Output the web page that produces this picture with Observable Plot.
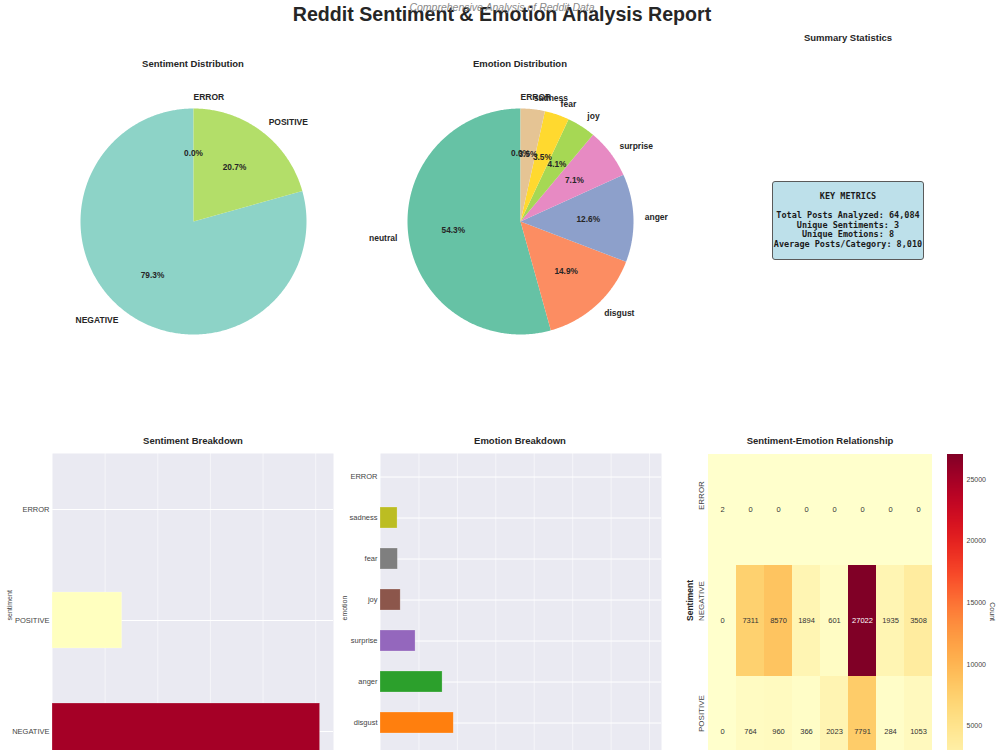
<!DOCTYPE html>
<html><head><meta charset="utf-8">
<script src="https://cdn.jsdelivr.net/npm/d3@7"></script>
<script src="https://cdn.jsdelivr.net/npm/@observablehq/plot@0.6"></script>
<style>
html,body{margin:0;padding:0;background:#fff;overflow:hidden;}
body{width:1000px;height:750px;position:relative;font-family:"Liberation Sans",Arial,sans-serif;color:#262626;}
.t{position:absolute;transform:translate(-50%,-50%);white-space:nowrap;font-weight:bold;font-size:9.5px;color:#262626;}
svg{overflow:visible;}
</style></head><body>
<script>
// ---------- data ----------
const sentiments = ["NEGATIVE", "POSITIVE", "ERROR"];
const sentimentCounts = [50841, 13241, 2];
const sentimentPieColors = ["#8dd3c7", "#b3de69", "#ffed6f"];
const sentimentBarColors = ["#a50026", "#ffffbf", "#006837"];

const emotions = ["neutral", "disgust", "anger", "surprise", "joy", "fear", "sadness", "ERROR"];
const emotionCounts = [34813, 9530, 8075, 4561, 2624, 2260, 2219, 2];
const emotionPieColors = ["#66c2a5", "#fc8d62", "#8da0cb", "#e78ac3", "#a6d854", "#ffd92f", "#e5c494", "#b3b3b3"];
const emotionBarColors = ["#1f77b4", "#ff7f0e", "#2ca02c", "#9467bd", "#8c564b", "#7f7f7f", "#bcbd22", "#17becf"];

const heatRows = ["ERROR", "NEGATIVE", "POSITIVE"];
const heatCols = ["ERROR", "anger", "disgust", "fear", "joy", "neutral", "sadness", "surprise"];
const heatValues = [
  [2, 0, 0, 0, 0, 0, 0, 0],
  [0, 7311, 8570, 1894, 601, 27022, 1935, 3508],
  [0, 764, 960, 366, 2023, 7791, 284, 1053]
];
const colorbarTicks = [5000, 10000, 15000, 20000, 25000];
const sentimentGridTicks = [10000, 20000, 30000, 40000, 50000];
const emotionGridTicks = [5000, 10000, 15000, 20000, 25000, 30000, 35000];

const FONT = "Liberation Sans, Arial, sans-serif";

function place(node, left, top) {
  node.style.position = "absolute";
  node.style.left = left + "px";
  node.style.top = top + "px";
  document.body.appendChild(node);
}
function label(text, x, y, css) {
  const d = document.createElement("div");
  d.className = "t";
  d.textContent = text;
  d.style.left = x + "px";
  d.style.top = y + "px";
  if (css) Object.assign(d.style, css);
  document.body.appendChild(d);
  return d;
}

// ---------- titles ----------
label("Reddit Sentiment & Emotion Analysis Report", 502, 14, {fontSize: "19.6px"});
label("Comprehensive Analysis of Reddit Data", 502, 7, {fontSize: "10.5px", fontWeight: "normal", fontStyle: "italic", color: "#8a8a8a"});
label("Sentiment Distribution", 193, 63);
label("Emotion Distribution", 520, 63);
label("Summary Statistics", 848, 37);
label("Sentiment Breakdown", 193, 440);
label("Emotion Breakdown", 520, 440);
label("Sentiment-Emotion Relationship", 820, 440);

// ---------- pies ----------
function pieChart(labels, values, colors) {
  const size = 300, R = 113;
  const s = (size / 2) / R;
  const total = d3.sum(values);
  const arcs = d3.pie().sort(null)(values);
  const marks = [];
  const outs = [];
  arcs.forEach((a, i) => {
    const a0 = Math.PI / 2 + a.startAngle, a1 = Math.PI / 2 + a.endAngle;
    const n = Math.max(2, Math.ceil((a1 - a0) / 0.01));
    const pts = [{x: 0, y: 0}];
    for (let j = 0; j <= n; j++) {
      const t = a0 + (a1 - a0) * j / n;
      pts.push({x: Math.cos(t), y: Math.sin(t)});
    }
    pts.push({x: 0, y: 0});
    marks.push(Plot.line(pts, {x: "x", y: "y", fill: colors[i], stroke: "none", curve: "linear"}));
    const mid = (a0 + a1) / 2;
    outs.push({
      name: labels[i],
      pct: (values[i] / total * 100).toFixed(1) + "%",
      lx: 1.1 * Math.cos(mid), ly: 1.1 * Math.sin(mid),
      px: 0.6 * Math.cos(mid), py: 0.6 * Math.sin(mid)
    });
  });
  const common = {fontSize: 8.5, fontWeight: "bold", fill: "#262626", lineAnchor: "middle"};
  marks.push(Plot.text(outs.filter(d => d.lx > 0), {x: "lx", y: "ly", text: "name", textAnchor: "start", ...common}));
  marks.push(Plot.text(outs.filter(d => d.lx <= 0), {x: "lx", y: "ly", text: "name", textAnchor: "end", ...common}));
  marks.push(Plot.text(outs, {x: "px", y: "py", text: "pct", textAnchor: "middle", ...common, fontSize: 8.3}));
  return Plot.plot({
    width: size, height: size, margin: 0,
    x: {domain: [-s, s], axis: null},
    y: {domain: [-s, s], axis: null},
    style: {fontFamily: FONT, background: "transparent", overflow: "visible"},
    marks
  });
}
place(pieChart(sentiments, sentimentCounts, sentimentPieColors), 43, 71);
place(pieChart(emotions, emotionCounts, emotionPieColors), 370, 71);

// ---------- key metrics box ----------
{
  const total = d3.sum(sentimentCounts);
  const box = document.createElement("div");
  Object.assign(box.style, {
    position: "absolute", left: "772px", top: "181px", width: "152px", height: "79px",
    boxSizing: "border-box", background: "#bde0ea", border: "1px solid #5a5a5a", borderRadius: "3px",
    fontFamily: "DejaVu Sans Mono, monospace", fontWeight: "bold", fontSize: "8.5px", lineHeight: "9.6px",
    textAlign: "center", whiteSpace: "pre", paddingTop: "10px", color: "#1a1a1a"
  });
  box.textContent = [
    "KEY METRICS", "",
    "Total Posts Analyzed: " + d3.format(",")(total),
    "Unique Sentiments: " + sentiments.length,
    "Unique Emotions: " + emotions.length,
    "Average Posts/Category: " + d3.format(",")(Math.floor(total / emotions.length))
  ].join("\n");
  document.body.appendChild(box);
}

// ---------- bar charts ----------
function barChart(names, values, colors, order, maxX, gridTicks, ylabel, opts) {
  const data = names.map((n, i) => ({name: n, value: values[i]}));
  return Plot.plot({
    width: opts.width, height: 340,
    marginLeft: opts.marginLeft, marginRight: opts.marginRight, marginTop: 0, marginBottom: 6,
    x: {domain: [0, maxX], axis: null},
    y: {domain: order, paddingInner: 0.5, paddingOuter: 0.25, label: null},
    color: {domain: names, range: colors},
    style: {fontFamily: FONT, fontSize: "7.5px", color: "#444", background: "transparent"},
    marks: [
      Plot.frame({fill: "#eaeaf2", stroke: null}),
      Plot.ruleX(gridTicks, {x: d => d, stroke: "white", strokeOpacity: 0.55, strokeWidth: 1}),
      Plot.gridY({stroke: "white", strokeOpacity: 1, strokeWidth: 1}),
      Plot.barX(data, {x: "value", y: "name", fill: "name", stroke: "white", strokeOpacity: 0.4, strokeWidth: 0.6}),
      Plot.axisY({tickSize: 0, tickPadding: 3, label: null, fill: "#444", fontSize: 7.5}),
      Plot.text([ylabel], {frameAnchor: "left", dx: opts.ylabelDx, rotate: -90, fontSize: 7, fill: "#444", text: d => d})
    ]
  });
}
place(barChart(sentiments, sentimentCounts, sentimentBarColors, ["ERROR", "POSITIVE", "NEGATIVE"],
  53383, sentimentGridTicks, "sentiment", {width: 340, marginLeft: 52, marginRight: 7, ylabelDx: -43}), 0, 453);
place(barChart(emotions, emotionCounts, emotionBarColors,
  ["ERROR", "sadness", "fear", "joy", "surprise", "anger", "disgust", "neutral"],
  36554, emotionGridTicks, "emotion", {width: 330, marginLeft: 40, marginRight: 9, ylabelDx: -36}), 340, 453);

// ---------- heatmap ----------
{
  const cells = [];
  heatRows.forEach((r, i) => heatCols.forEach((c, j) => cells.push({row: r, col: c, v: heatValues[i][j]})));
  const vmax = d3.max(cells, d => d.v);
  const heat = Plot.plot({
    width: 253, height: 333, marginLeft: 27, marginRight: 0, marginTop: 0, marginBottom: 0,
    x: {domain: heatCols, padding: 0, axis: null},
    y: {domain: heatRows, padding: 0, axis: null},
    color: {type: "linear", scheme: "ylorrd", domain: [0, vmax]},
    style: {fontFamily: FONT, background: "transparent"},
    marks: [
      Plot.cell(cells, {x: "col", y: "row", fill: "v", shapeRendering: "crispEdges"}),
      Plot.text(cells.filter(d => d.v <= vmax * 0.6), {x: "col", y: "row", text: d => String(d.v), fill: "#333", fontSize: 7.5}),
      Plot.text(cells.filter(d => d.v > vmax * 0.6), {x: "col", y: "row", text: d => String(d.v), fill: "#fff", fontSize: 7.5}),
      Plot.text(heatRows, {y: d => d, text: d => d, frameAnchor: "left", dx: -6, rotate: -90, fontSize: 8, fill: "#444"}),
      Plot.text(["Sentiment"], {frameAnchor: "left", dx: -17, rotate: -90, fontSize: 8.5, fontWeight: "bold", fill: "#262626", text: d => d})
    ]
  });
  place(heat, 680, 454);

  const steps = d3.range(0, vmax, 60);
  const cbar = Plot.plot({
    width: 53, height: 333, marginLeft: 0, marginRight: 37, marginTop: 0, marginBottom: 0,
    x: {domain: [0, 1], axis: null},
    y: {domain: [0, vmax], axis: null},
    color: {type: "linear", scheme: "ylorrd", domain: [0, vmax]},
    style: {fontFamily: FONT, background: "transparent"},
    marks: [
      Plot.rect(steps, {x1: 0, x2: 1, y1: d => d, y2: d => Math.min(d + 90, vmax), fill: d => d, shapeRendering: "crispEdges"}),
      Plot.axisY(colorbarTicks, {anchor: "right", tickSize: 0, tickPadding: 3, fontSize: 7, fill: "#444", label: null, tickFormat: d => String(d)}),
      Plot.text(["Count"], {frameAnchor: "right", dx: 29, rotate: 90, fontSize: 7, fill: "#444", text: d => d})
    ]
  });
  place(cbar, 947, 454);
}
</script>
</body></html>
